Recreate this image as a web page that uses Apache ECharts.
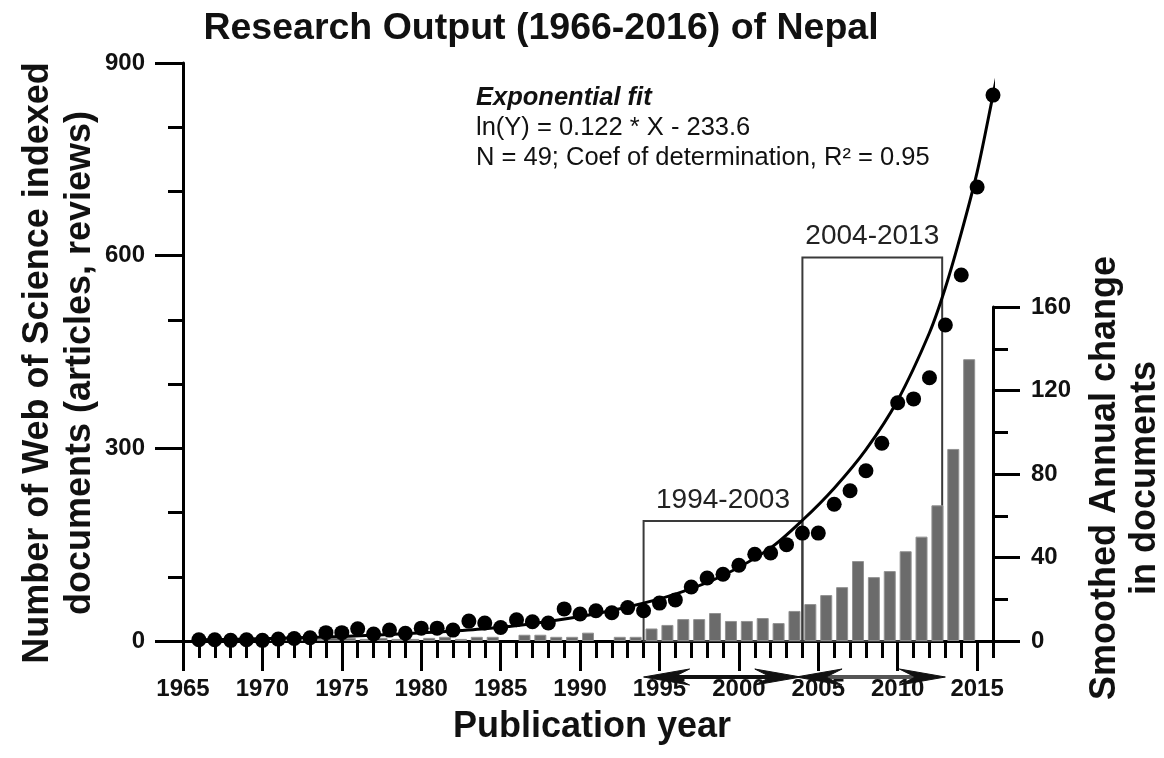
<!DOCTYPE html>
<html>
<head>
<meta charset="utf-8">
<script src="https://cdn.jsdelivr.net/npm/echarts@6/dist/echarts.min.js"></script>
<style>
  html, body { margin: 0; padding: 0; background: #fff; }
  #chart { width: 1164px; height: 758px; }
</style>
</head>
<body>
<div id="chart"></div>
<script>
// Yearly count of indexed documents (dots)
const years = [1966,1967,1968,1969,1970,1971,1972,1973,1974,1975,1976,1977,1978,1979,1980,
  1981,1982,1983,1984,1985,1986,1987,1988,1989,1990,1991,1992,1993,1994,1995,1996,1997,1998,
  1999,2000,2001,2002,2003,2004,2005,2006,2007,2008,2009,2010,2011,2012,2013,2014,2015,2016];
const documents = [2,2,1,2,1,3,4,5,13,13,19,11,17,12,20,
  20,17,31,28,21,33,30,28,50,42,47,44,52,47,59,64,84,98,
  104,118,135,137,150,168,168,213,234,265,308,371,377,410,492,570,707,850];

// Smoothed annual change (bars, right axis); each bar covers the year after its start year
const changeYears = [1970,1971,1972,1973,1974,1975,1976,1977,1978,1979,1980,1981,1982,1983,1984,
  1986,1987,1988,1989,1990,1992,1993,1994,1995,1996,1997,1998,1999,2000,2001,2002,2003,
  2004,2005,2006,2007,2008,2009,2010,2011,2012,2013,2014];
const changeValues = [0.5,1,1,1,1.5,1.5,1,1.5,1,1,1.5,2,1,2,2,
  3,3,2,2,4,2,2,6,7.7,10.5,10.5,13.4,9.6,9.6,11,8.6,14.4,
  17.7,22,25.8,38.3,30.6,33.5,43,50,65,92,135];

// Exponential fit curve, points along the drawn curve
const fitYears = [1966,1969,1972,1975,1978,1981,1984,1987,1990,1993,1996,1999,2002,2004,2006,2008,2010,2012,2013,2014,2015,2016,2016.45];
const fitValues = [2,3,5,7,10,14,19,27,38,53,73,102,145,188,238,298,375,480,550,635,730,850,905];

// Highlighted decades
const periodLabels = ['1994-2003', '2004-2013'];
const periodStart = [1994, 2004];
const periodEnd = [2004, 2012.8];
const periodTop = [187, 597];

// Axis ticks
const xLabelYears = [1965,1970,1975,1980,1985,1990,1995,2000,2005,2010,2015];
const xMinorYears = years.filter(y => y % 5 !== 0);

const FONT = '"Liberation Sans", Arial, sans-serif';
const chart = echarts.init(document.getElementById('chart'), null, { renderer: 'canvas' });

const axisLineStyle = { color: '#000', width: 3 };
const tickLabel = { fontSize: 24, fontWeight: 'bold', color: '#111', fontFamily: FONT, formatter: v => String(v) };

const option = {
  backgroundColor: '#fff',
  animation: false,
  grid: [
    { left: 183, top: 63, width: 810, height: 578 },
    { left: 183, top: 307, width: 810, height: 334 }
  ],
  xAxis: [
    {
      gridIndex: 0, type: 'value', min: 1965, max: 2016, position: 'bottom',
      axisLine: { show: true, lineStyle: axisLineStyle },
      axisTick: { show: true, customValues: xLabelYears, length: 30, lineStyle: axisLineStyle },
      axisLabel: Object.assign({ customValues: xLabelYears, margin: 36 }, tickLabel),
      splitLine: { show: false }
    },
    {
      gridIndex: 0, type: 'value', min: 1965, max: 2016, position: 'bottom', offset: 0,
      axisLine: { show: false },
      axisTick: { show: true, customValues: xMinorYears, length: 17, lineStyle: axisLineStyle },
      axisLabel: { show: false },
      splitLine: { show: false }
    },
    {
      gridIndex: 1, type: 'value', min: 1965, max: 2016, show: false
    }
  ],
  yAxis: [
    {
      gridIndex: 0, type: 'value', min: 0, max: 900, interval: 300, position: 'left',
      axisLine: { show: true, lineStyle: axisLineStyle },
      axisTick: { show: true, length: 28, lineStyle: axisLineStyle },
      minorTick: { show: true, splitNumber: 3, length: 15, lineStyle: axisLineStyle },
      axisLabel: Object.assign({ margin: 38 }, tickLabel),
      splitLine: { show: false }
    },
    {
      gridIndex: 1, type: 'value', min: 0, max: 160, interval: 40, position: 'right',
      axisLine: { show: true, lineStyle: axisLineStyle },
      axisTick: { show: true, length: 27, lineStyle: axisLineStyle },
      minorTick: { show: true, splitNumber: 2, length: 15, lineStyle: axisLineStyle },
      axisLabel: Object.assign({ margin: 38 }, tickLabel),
      splitLine: { show: false }
    }
  ],
  series: [
    {
      name: 'Smoothed annual change',
      type: 'bar', xAxisIndex: 2, yAxisIndex: 1,
      barWidth: 12,
      data: changeYears.map((y, i) => [y + 0.5, changeValues[i]]),
      itemStyle: { color: '#6b6b6b', borderColor: '#929292', borderWidth: 1 },
      silent: true
    },
    {
      name: 'Exponential fit',
      type: 'line', xAxisIndex: 0, yAxisIndex: 0,
      data: fitYears.map((y, i) => [y, fitValues[i]]),
      smooth: 0.3, showSymbol: false, clip: false,
      lineStyle: { color: '#000', width: 3 },
      silent: true
    },
    {
      name: 'Documents',
      type: 'scatter', xAxisIndex: 0, yAxisIndex: 0,
      data: years.map((y, i) => [y, documents[i]]),
      symbolSize: 15, clip: false,
      itemStyle: { color: '#000', opacity: 1 },
      silent: true,
      markArea: {
        silent: true,
        itemStyle: { color: 'rgba(0,0,0,0)', borderColor: '#3a3a3a', borderWidth: 2 },
        label: { show: true, position: 'top', distance: 6, fontSize: 28, color: '#222', fontFamily: FONT },
        data: periodLabels.map((name, i) => [
          { name: name, xAxis: periodStart[i], yAxis: 0 },
          { xAxis: periodEnd[i], yAxis: periodTop[i] }
        ])
      }
    }
  ],
  graphic: [
    { type: 'text', x: 541, y: 29, style: { text: 'Research Output (1966-2016) of Nepal',
      fontSize: 37.5, fontWeight: 'bold', fontFamily: FONT, fill: '#111', align: 'center', verticalAlign: 'middle' } },
    { type: 'text', x: 59, y: 363, rotation: Math.PI / 2, style: {
      text: 'Number of Web of Science indexed\ndocuments (articles, reviews)', lineHeight: 42,
      fontSize: 36, fontWeight: 'bold', fontFamily: FONT, fill: '#111', align: 'center', verticalAlign: 'middle' } },
    { type: 'text', x: 1125, y: 478, rotation: Math.PI / 2, style: {
      text: 'Smoothed Annual change\nin documents', lineHeight: 40,
      fontSize: 36, fontWeight: 'bold', fontFamily: FONT, fill: '#111', align: 'center', verticalAlign: 'middle' } },
    { type: 'text', x: 592, y: 727, style: { text: 'Publication year',
      fontSize: 36, fontWeight: 'bold', fontFamily: FONT, fill: '#111', align: 'center', verticalAlign: 'middle' } },
    { type: 'text', x: 476, y: 98, style: { text: 'Exponential fit',
      fontSize: 25.5, fontWeight: 'bold', fontStyle: 'italic', fontFamily: FONT, fill: '#111', align: 'left', verticalAlign: 'middle' } },
    { type: 'text', x: 476, y: 128, style: { text: 'ln(Y) = 0.122 * X - 233.6',
      fontSize: 25.5, fontFamily: FONT, fill: '#111', align: 'left', verticalAlign: 'middle' } },
    { type: 'text', x: 476, y: 158, style: { text: 'N = 49; Coef of determination, R\u00B2 = 0.95',
      fontSize: 25.5, fontFamily: FONT, fill: '#111', align: 'left', verticalAlign: 'middle' } }
  ]
};

chart.setOption(option);

// Period arrows under the year axis, placed through the x scale
function arrowParts(fromYear, toYear, y, shaftColor) {
  const x1 = chart.convertToPixel({ xAxisIndex: 0 }, fromYear);
  const x2 = chart.convertToPixel({ xAxisIndex: 0 }, toYear);
  const headL = [[x1, y], [x1 + 46, y - 8], [x1 + 30, y], [x1 + 46, y + 8]];
  const headR = [[x2, y], [x2 - 46, y - 8], [x2 - 30, y], [x2 - 46, y + 8]];
  return [
    { type: 'line', shape: { x1: x1 + 20, y1: y, x2: x2 - 20, y2: y }, style: { stroke: shaftColor, lineWidth: 4 }, silent: true },
    { type: 'polygon', shape: { points: headL }, style: { fill: '#111', stroke: '#111', lineWidth: 1 }, silent: true },
    { type: 'polygon', shape: { points: headR }, style: { fill: '#111', stroke: '#111', lineWidth: 1 }, silent: true }
  ];
}
const arrowY = 677;
const arrows = [].concat(
  arrowParts(periodStart[0], 2003.9, arrowY, '#111'),
  arrowParts(2003.6, 2013, arrowY, '#555')
);
chart.setOption({ graphic: option.graphic.concat(arrows) });
</script>
</body>
</html>
